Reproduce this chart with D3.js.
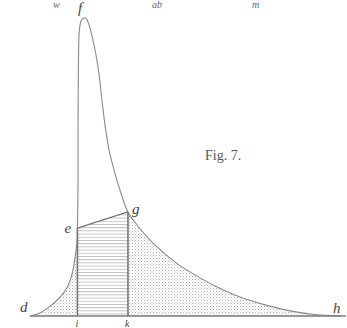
<!DOCTYPE html>
<html><head><meta charset="utf-8">
<script src="https://cdn.jsdelivr.net/npm/d3@7"></script>
<style>html,body{margin:0;padding:0;background:#fff;}svg{display:block;}</style>
</head><body>
<svg id="c" width="347" height="328"></svg>
<script>
// Curve d -> e -> f -> g -> h, in abstract units (x: 0..10, y: 0..10)
const curveX = [0,0.32,0.65,0.97,1.19,1.35,1.45,1.52,1.53,1.55,1.55,1.56,1.575,1.60,1.645,1.726,1.806,1.871,1.935,2.03,2.13,2.23,2.32,2.42,2.55,2.71,2.90,3.16,3.48,3.87,4.29,4.77,5.32,5.97,6.77,7.58,8.39,9.19,10.0];
const curveY = [0,0.10,0.33,0.63,0.93,1.37,1.93,2.53,2.93,4.53,6.53,8.2,9.2,9.6,9.83,9.93,9.92,9.8,9.6,9.2,8.7,8.03,7.2,6.37,5.53,4.87,4.2,3.47,3.0,2.53,2.13,1.73,1.37,1.0,0.63,0.37,0.17,0.05,0];
const eIndex = 8;   // point e
const gIndex = 27;  // point g
const labels = ["d","e","f","g","h","i","k"];
const figTitle = "Fig. 7.";
const topFragments = ["w","ab","m"];

const svg = d3.select("#c");
const x = d3.scaleLinear().domain([0,10]).range([30,340]);
const y = d3.scaleLinear().domain([0,10]).range([316,16]);
const pts = curveX.map((v,i)=>[v,curveY[i]]);

const defs = svg.append("defs");
const dots = defs.append("pattern").attr("id","dots").attr("patternUnits","userSpaceOnUse")
  .attr("width",3).attr("height",3);
dots.append("rect").attr("x",0).attr("y",0).attr("width",1).attr("height",1).attr("fill","#b0b0b0");
dots.append("rect").attr("x",1.5).attr("y",1.5).attr("width",1).attr("height",1).attr("fill","#cacaca");
const hatch = defs.append("pattern").attr("id","hatch").attr("patternUnits","userSpaceOnUse")
  .attr("width",4).attr("height",3.2);
hatch.append("rect").attr("x",0).attr("y",0).attr("width",4).attr("height",0.9).attr("fill","#bbb");

const area = d3.area().x(d=>x(d[0])).y0(y(0)).y1(d=>y(d[1])).curve(d3.curveCatmullRom);
const line = d3.line().x(d=>x(d[0])).y(d=>y(d[1])).curve(d3.curveCatmullRom);

svg.append("path").datum(pts.slice(0,eIndex+1)).attr("d",area).attr("fill","url(#dots)");
svg.append("path").datum(pts.slice(gIndex)).attr("d",area).attr("fill","url(#dots)");
const e = pts[eIndex], g = pts[gIndex];
const trap = [[e[0],0],[e[0],e[1]],[g[0],g[1]],[g[0],0]];
svg.append("path").datum(trap).attr("d",d3.line().x(d=>x(d[0])).y(d=>y(d[1])))
  .attr("fill","url(#hatch)");

svg.append("path").datum(pts).attr("d",line).attr("fill","none")
  .attr("stroke","#8a8a8a").attr("stroke-width",1.1);
svg.append("line").attr("x1",x(e[0])).attr("y1",y(e[1])).attr("x2",x(g[0])).attr("y2",y(g[1]))
  .attr("stroke","#777").attr("stroke-width",1.3);
[e,g].forEach(p=>{
  svg.append("line").attr("x1",x(p[0])).attr("x2",x(p[0])).attr("y1",y(p[1])).attr("y2",y(0))
    .attr("stroke","#777").attr("stroke-width",1.6);
});
svg.append("line").attr("x1",x(0)).attr("x2",x(10)+6).attr("y1",y(0)).attr("y2",y(0))
  .attr("stroke","#7a7a7a").attr("stroke-width",1.6);

const font = "'Liberation Serif','DejaVu Serif',serif";
const labPos = {d:[x(0)-10,y(0)-4,15], e:[x(e[0])-13,y(e[1])+5,15], f:[x(1.68)-4,13,15], g:[x(g[0])+4,y(g[1])+2,15],
  h:[x(10)-7,y(0)-3,15], i:[x(e[0])-2,y(0)+11,10], k:[x(g[0])-3,y(0)+11,10]};
labels.forEach(l=>{
  svg.append("text").attr("x",labPos[l][0]).attr("y",labPos[l][1]).text(l)
    .attr("font-family",font).attr("font-style","italic").attr("font-size",labPos[l][2]).attr("fill","#444");
});
svg.append("text").attr("x",205).attr("y",160).text(figTitle)
  .attr("font-family",font).attr("font-size",14).attr("fill","#555");
const fragX = [53,152,252];
topFragments.forEach((t,i)=>{
  svg.append("text").attr("x",fragX[i]).attr("y",8).text(t)
    .attr("font-family",font).attr("font-style","italic").attr("font-size",10).attr("fill","#666");
});
</script>
</body></html>
